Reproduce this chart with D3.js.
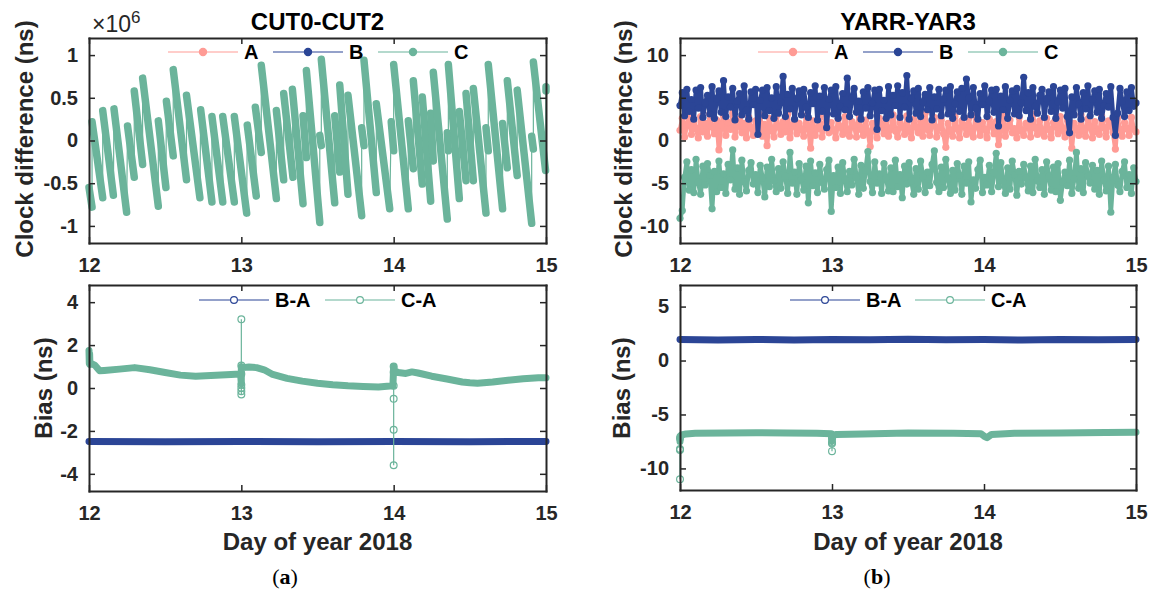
<!DOCTYPE html>
<html><head><meta charset="utf-8">
<script src="https://cdn.jsdelivr.net/npm/d3@7"></script>
<style>body{margin:0;background:#fff}</style>
</head><body><svg id="c" width="1153" height="595"></svg>
<script>
// ---------- data ----------
const xTicks = [12, 13, 14, 15];
const cutYTicks = [-1, -0.5, 0, 0.5, 1];          // x 10^6 ns
const yarYTicks = [-10, -5, 0, 5, 10];
const cutBiasTicks = [-4, -2, 0, 2, 4];
const yarBiasTicks = [-10, -5, 0, 5];
const seriesTop = ["A", "B", "C"];
const seriesBias = ["B-A", "C-A"];

// CUT0-CUT2, series C (units of 1e6 ns): [tStart, vStart, tEnd, vEnd] per ramp
const cutC = [
 [12.000,-0.55,12.020,-0.78],[12.020,0.22,12.090,-0.67],[12.090,0.35,12.160,-0.64],
 [12.164,0.37,12.247,-0.84],[12.253,0.17,12.297,-0.43],[12.297,0.58,12.352,-0.28],
 [12.352,0.73,12.455,-0.77],[12.455,0.23,12.505,-0.55],[12.508,0.46,12.553,-0.18],
 [12.553,0.83,12.640,-0.46],[12.640,0.53,12.728,-0.67],[12.733,0.36,12.807,-0.72],
 [12.807,0.28,12.878,-0.72],[12.878,0.28,12.954,-0.72],[12.954,0.28,13.035,-0.85],
 [13.039,0.18,13.098,-0.65],[13.092,0.39,13.131,-0.14],[13.131,0.88,13.230,-0.68],
 [13.230,0.35,13.278,-0.46],[13.278,0.55,13.339,-0.43],[13.335,0.60,13.405,-0.74],
 [13.405,0.29,13.427,-0.20],[13.427,0.82,13.515,-0.96],[13.515,0.06,13.525,-0.06],
 [13.525,0.95,13.613,-0.73],[13.613,0.29,13.646,-0.37],[13.646,0.65,13.700,-0.63],
 [13.700,0.53,13.790,-0.88],[13.790,0.15,13.805,-0.06],[13.805,0.94,13.886,-0.61],
 [13.886,0.43,13.974,-0.80],[13.984,0.22,14.000,-0.12],[14.000,0.89,14.096,-0.80],
 [14.096,0.23,14.129,-0.33],[14.129,0.70,14.188,-0.51],[14.188,0.51,14.243,-0.71],
 [14.243,0.32,14.260,-0.24],[14.260,0.80,14.352,-0.92],[14.352,0.09,14.359,-0.12],
 [14.359,0.89,14.431,-0.68],[14.431,0.34,14.475,-0.47],[14.475,0.55,14.523,-0.47],
 [14.523,0.61,14.606,-0.85],[14.606,0.15,14.621,-0.12],[14.621,0.89,14.715,-0.80],
 [14.715,0.20,14.746,-0.32],[14.746,0.70,14.811,-0.41],[14.811,0.59,14.906,-0.97],
 [14.906,0.05,14.917,-0.10],[14.917,0.92,14.997,-0.35],[15.000,0.63,15.000,0.58]
];

// YARR-YAR3 clock differences (ns), evenly sampled over days 12-15
const yarA = [
 1.2,2.6,0.4,1.9,3.0,0.7,2.2,1.4,0.3,2.8,1.0,2.0,0.5,3.1,1.6,0.8,2.4,-1.1,1.8,2.9,
 0.6,2.1,1.3,3.2,0.4,1.7,2.5,0.9,2.0,0.3,2.7,1.5,0.6,2.3,1.1,3.0,0.5,1.9,-0.6,2.6,
 1.2,0.4,2.8,1.6,0.7,2.2,1.0,3.1,0.3,1.8,2.4,0.8,2.0,1.3,0.5,2.9,1.7,-0.9,2.3,0.6,
 1.4,2.7,0.4,1.9,3.0,0.9,2.1,1.2,0.3,2.5,1.6,0.7,2.8,1.1,0.5,2.2,1.8,0.4,3.1,1.3,
 0.6,2.4,1.0,-0.7,2.0,1.5,0.3,2.6,1.9,0.8,2.3,0.5,1.4,3.0,1.1,0.4,2.1,1.7,0.7,2.9,
 1.2,0.3,2.5,1.6,0.9,2.2,0.5,3.2,1.3,0.6,1.9,2.7,0.4,1.5,2.4,0.8,-0.8,2.0,1.1,0.5,
 2.8,1.4,0.3,2.3,1.8,0.7,2.6,1.0,0.4,3.0,1.6,0.6,2.1,1.3,0.3,2.5,1.9,0.8,2.2,-0.5,
 1.2,2.9,0.5,1.7,2.4,0.9,1.4,0.3,2.7,1.1,0.6,2.0,1.8,0.4,3.1,1.5,0.7,2.3,1.0,0.5,
 2.6,1.3,0.3,2.1,1.9,0.8,2.8,1.2,0.4,2.4,1.6,-0.9,2.0,1.4,0.6,3.0,1.1,0.5,2.5,1.7,
 0.3,2.2,1.0,0.7,2.9,1.5,0.4,2.3,1.8,0.9,-1.0,2.6,1.2,0.5,2.1,1.4,0.6,2.7,1.3,1.0
];
const yarB = [
 4.1,5.6,2.9,6.0,3.4,4.8,2.5,5.9,3.8,6.2,2.7,4.4,5.3,3.1,6.3,2.6,4.9,5.8,3.3,7.0,
 2.8,5.1,3.9,6.1,2.4,4.6,5.5,3.0,6.4,3.6,2.5,5.7,4.2,6.0,0.7,4.7,5.9,2.9,6.2,3.5,
 5.0,2.6,6.3,3.2,4.5,7.5,2.8,5.4,3.7,6.1,2.5,4.9,5.8,3.0,6.0,3.9,2.7,5.6,4.3,6.4,
 2.4,5.2,3.4,6.2,1.5,4.8,5.9,3.1,6.3,2.6,4.0,5.5,3.6,7.3,2.8,5.0,6.1,3.3,4.6,2.5,
 5.7,3.8,6.2,2.9,4.4,5.9,1.3,6.0,3.5,4.7,2.6,6.3,3.0,5.3,4.1,6.4,2.7,5.6,3.9,7.6,
 2.5,4.9,5.8,3.2,6.1,2.8,4.5,5.4,3.6,6.2,2.4,5.1,3.7,6.0,2.9,4.8,5.9,3.1,6.3,2.6,
 4.3,5.7,3.4,6.1,2.7,7.2,5.0,3.0,6.2,3.8,2.5,5.5,4.2,6.4,2.8,4.6,5.9,3.3,6.0,1.7,
 5.2,3.6,6.3,2.6,4.7,5.8,3.1,6.1,2.9,4.4,7.4,3.5,5.6,2.5,6.2,4.0,3.2,5.3,6.0,2.7,
 4.9,5.7,3.4,6.3,2.6,4.5,5.9,3.8,6.1,2.8,0.9,5.1,3.0,6.2,4.3,2.5,5.6,3.7,6.4,2.9,
 4.8,5.8,3.3,6.0,2.6,4.1,5.5,3.9,6.3,2.7,0.6,3.2,6.1,4.6,2.8,5.7,3.5,6.2,4.0,4.4
];
const yarC = [
 -9.1,-8.2,-4.3,-2.5,-5.8,-3.4,-6.1,-2.2,-4.9,-6.3,-3.0,-5.2,-2.7,-4.1,-8.0,-3.6,-6.0,-2.4,-5.5,-3.9,
 -6.2,-2.8,-4.6,-1.1,-5.7,-3.2,-6.3,-2.3,-4.8,-5.9,-3.5,-2.6,-5.1,-4.0,-6.1,-2.9,-4.4,-6.6,-3.1,-5.4,
 -2.2,-4.7,-6.0,-3.3,-5.6,-2.5,-4.2,-6.2,-1.4,-5.0,-3.7,-6.3,-2.7,-4.5,-5.8,-3.0,-7.3,-2.4,-5.3,-3.8,
 -6.1,-2.8,-4.9,-5.7,-3.4,-2.3,-8.3,-4.1,-5.5,-3.1,-6.2,-2.6,-4.6,-6.0,-3.6,-5.2,-2.2,-4.3,-6.3,-2.9,
 -5.6,-3.5,-1.3,-4.8,-6.1,-2.5,-5.0,-3.9,-6.2,-2.7,-4.4,-5.9,-3.2,-6.0,-2.3,-5.4,-4.0,-6.7,-3.0,-5.1,
 -2.6,-4.7,-6.3,-3.3,-5.7,-2.4,-4.2,-6.1,-3.7,-5.3,-2.8,-1.2,-4.9,-6.0,-3.1,-5.5,-2.2,-4.5,-6.2,-3.5,
 -5.8,-2.7,-4.1,-6.3,-3.0,-5.0,-2.5,-7.2,-4.6,-5.6,-3.4,-2.3,-6.1,-4.3,-5.2,-2.9,-6.0,-3.8,-1.5,-5.4,
 -2.6,-4.8,-6.2,-3.2,-5.7,-2.4,-4.0,-6.4,-3.6,-5.1,-2.8,-4.4,-5.9,-3.0,-6.1,-2.2,-4.7,-5.5,-3.4,-6.3,
 -2.5,-4.2,-5.8,-3.1,-6.0,-2.7,-7.0,-4.9,-3.7,-5.3,-2.3,-6.2,-4.5,-1.4,-5.6,-3.3,-6.1,-2.6,-4.1,-5.0,
 -2.9,-5.7,-3.5,-6.3,-2.4,-4.6,-5.9,-3.0,-8.4,-4.3,-2.8,-5.2,-6.0,-3.6,-2.5,-5.5,-4.0,-6.2,-3.2,-4.8
];

// CUT0-CUT2 bias (ns)
const cutBA = [[12,-2.49],[12.5,-2.5],[13,-2.49],[13.5,-2.5],[14,-2.49],[14.5,-2.5],[15,-2.49]];
const cutCA = [
 [12.0,1.75],[12.002,1.15],[12.004,1.6],[12.006,1.1],[12.02,1.12],[12.04,1.05],[12.07,0.8],
 [12.1,0.82],[12.2,0.88],[12.3,0.95],[12.4,0.85],[12.5,0.72],[12.6,0.6],[12.7,0.55],[12.8,0.58],
 [12.9,0.62],[12.995,0.65],[13.0,0.2],[13.0,1.0],[13.01,0.95],[13.05,0.98],[13.1,0.95],[13.15,0.85],
 [13.2,0.65],[13.3,0.45],[13.4,0.32],[13.5,0.22],[13.6,0.15],[13.7,0.1],[13.8,0.07],[13.9,0.05],
 [13.995,0.1],[14.0,1.0],[14.005,0.8],[14.03,0.72],[14.08,0.68],[14.12,0.75],[14.16,0.7],
 [14.25,0.55],[14.35,0.42],[14.45,0.28],[14.5,0.24],[14.55,0.22],[14.65,0.28],[14.75,0.36],
 [14.85,0.43],[14.95,0.48],[15.0,0.48]
];
const cutCAOut13 = [[13.0,0.65],[13.0,3.2],[13.0,1.05],[13.0,0.15],[13.0,0.0],[13.0,-0.15],[13.0,-0.3]];
const cutCAOut14 = [[14.0,0.1],[14.0,1.0],[14.0,0.75],[14.0,-0.5],[14.0,-1.95],[14.0,-3.6]];

// YARR-YAR3 bias (ns)
const yarBA = [[12,1.95],[12.25,1.9],[12.5,1.95],[12.75,1.9],[13,1.95],[13.25,1.92],[13.5,1.97],
 [13.75,1.93],[14,1.95],[14.25,1.9],[14.5,1.95],[14.75,1.92],[15,1.95]];
const yarCA = [
 [12.0,-7.5],[12.0,-7.0],[12.01,-6.9],[12.04,-6.8],[12.1,-6.75],[12.3,-6.72],[12.5,-6.7],
 [12.7,-6.72],[12.9,-6.74],[12.995,-6.78],[13.0,-7.5],[13.005,-6.95],[13.03,-6.85],[13.2,-6.8],
 [13.5,-6.72],[13.8,-6.75],[13.98,-6.78],[14.0,-7.0],[14.02,-7.15],[14.05,-6.85],[14.2,-6.75],
 [14.5,-6.72],[14.8,-6.68],[15.0,-6.65]
];
const yarCAOut12 = [[12.0,-7.2],[12.0,-8.2],[12.0,-8.3],[12.0,-11.0]];
const yarCAOut13 = [[13.0,-7.2],[13.0,-7.6],[13.0,-7.7],[13.0,-8.4]];

// ---------- drawing ----------
const colA = "#FF9B95", colB = "#2B4596", colC = "#6BB49B";
const colorOf = {"A": colA, "B": colB, "C": colC, "B-A": colB, "C-A": colC};
const FONT = "'Liberation Sans', Arial, Helvetica, sans-serif";
const INK = "#262626";
const svg = d3.select("#c");

function makePanel(x0, x1, y0, y1, yd) {
  return {
    o: {x0, x1, y0, y1},
    x: d3.scaleLinear().domain([12, 15]).range([x0, x1]),
    y: d3.scaleLinear().domain(yd).range([y1, y0])
  };
}
const TL = makePanel(89, 546, 38, 243, [-1.2, 1.2]);
const TR = makePanel(680, 1136, 38, 243, [-12, 12]);
const BL = makePanel(89, 546, 285, 491, [-4.8, 4.8]);
const BR = makePanel(680, 1136, 285, 490, [-12, 7]);

function drawAxes(p, yTicks, fmt) {
  const {x, y, o} = p;
  const g = svg.append("g");
  g.append("g").attr("transform", `translate(0,${o.y1})`)
    .call(d3.axisBottom(x).tickValues(xTicks).tickSizeInner(-6).tickSizeOuter(0).tickPadding(15).tickFormat(d3.format("d")));
  g.append("g").attr("transform", `translate(0,${o.y0})`)
    .call(d3.axisTop(x).tickValues(xTicks).tickSizeInner(-6).tickSizeOuter(0).tickFormat(""));
  g.append("g").attr("transform", `translate(${o.x0},0)`)
    .call(d3.axisLeft(y).tickValues(yTicks).tickSizeInner(-6).tickSizeOuter(0).tickPadding(11).tickFormat(fmt));
  g.append("g").attr("transform", `translate(${o.x1},0)`)
    .call(d3.axisRight(y).tickValues(yTicks).tickSizeInner(-6).tickSizeOuter(0).tickFormat(""));
  g.selectAll(".domain").attr("stroke", INK).attr("stroke-width", 2).attr("stroke-linecap", "square");
  g.selectAll(".tick line").attr("stroke", INK).attr("stroke-width", 1.5);
  g.selectAll("text").attr("font-family", FONT).attr("font-size", 20)
    .attr("font-weight", "bold").attr("fill", INK);
}

function legend(items, starts, yy, filled) {
  const g = svg.append("g");
  items.forEach((name, i) => {
    const lx = starts[i], c = colorOf[name];
    g.append("line").attr("x1", lx).attr("x2", lx + 70).attr("y1", yy).attr("y2", yy)
      .attr("stroke", c).attr("stroke-width", 1.2);
    g.append("circle").attr("cx", lx + 35).attr("cy", yy).attr("r", filled ? 3.6 : 3.4)
      .attr("fill", filled ? c : "#fff").attr("stroke", c).attr("stroke-width", 1.2);
    g.append("text").attr("x", lx + 76).attr("y", yy).attr("dy", "0.36em")
      .attr("font-family", FONT).attr("font-size", 20).attr("font-weight", "bold")
      .attr("fill", "#000").text(name);
  });
}

const lineGen = p => d3.line().x(d => p.x(d[0])).y(d => p.y(d[1]));

// ---- Panel TL: CUT0-CUT2 clock difference ----
(function () {
  const p = TL, g = svg.append("g");
  const pts = [];
  cutC.forEach(r => { pts.push([r[0], r[1]]); pts.push([r[2], r[3]]); });
  g.append("path").attr("d", lineGen(p)(pts)).attr("fill", "none")
    .attr("stroke", colC).attr("stroke-width", 1.2);
  g.selectAll("line.ramp").data(cutC).join("line").attr("class", "ramp")
    .attr("x1", d => p.x(d[0])).attr("y1", d => p.y(d[1]))
    .attr("x2", d => p.x(d[2])).attr("y2", d => p.y(d[3]))
    .attr("stroke", colC).attr("stroke-width", 7.5).attr("stroke-linecap", "round");
})();

// ---- Panel TR: YARR-YAR3 clock difference ----
(function () {
  const p = TR, g = svg.append("g");
  [[yarA, colA], [yarB, colB], [yarC, colC]].forEach(([vals, c]) => {
    const n = vals.length;
    const pts = vals.map((v, i) => [12 + 3 * i / (n - 1), v]);
    g.append("path").attr("d", lineGen(p)(pts)).attr("fill", "none")
      .attr("stroke", c).attr("stroke-width", 4.6).attr("stroke-linejoin", "round");
    g.append("g").selectAll("circle").data(pts).join("circle")
      .attr("cx", d => p.x(d[0])).attr("cy", d => p.y(d[1])).attr("r", 3.6).attr("fill", c);
  });
})();

// ---- Panel BL: CUT0-CUT2 bias ----
(function () {
  const p = BL, g = svg.append("g");
  const lg = lineGen(p);
  g.append("path").attr("d", lg(cutBA)).attr("fill", "none").attr("stroke", colB)
    .attr("stroke-width", 7).attr("stroke-linecap", "round");
  [cutCAOut13, cutCAOut14].forEach(arr => {
    g.append("path").attr("d", lg(arr)).attr("fill", "none").attr("stroke", colC).attr("stroke-width", 1.2);
    g.append("g").selectAll("circle").data(arr).join("circle")
      .attr("cx", d => p.x(d[0])).attr("cy", d => p.y(d[1])).attr("r", 3.4)
      .attr("fill", "none").attr("stroke", colC).attr("stroke-width", 1.2);
  });
  g.append("path").attr("d", lg(cutCA)).attr("fill", "none").attr("stroke", colC)
    .attr("stroke-width", 7).attr("stroke-linecap", "round").attr("stroke-linejoin", "round");
})();

// ---- Panel BR: YARR-YAR3 bias ----
(function () {
  const p = BR, g = svg.append("g");
  const lg = lineGen(p);
  g.append("path").attr("d", lg(yarBA)).attr("fill", "none").attr("stroke", colB)
    .attr("stroke-width", 7).attr("stroke-linecap", "round");
  [yarCAOut12, yarCAOut13].forEach(arr => {
    g.append("path").attr("d", lg(arr)).attr("fill", "none").attr("stroke", colC).attr("stroke-width", 1.2);
    g.append("g").selectAll("circle").data(arr).join("circle")
      .attr("cx", d => p.x(d[0])).attr("cy", d => p.y(d[1])).attr("r", 3.4)
      .attr("fill", "none").attr("stroke", colC).attr("stroke-width", 1.2);
  });
  g.append("path").attr("d", lg(yarCA)).attr("fill", "none").attr("stroke", colC)
    .attr("stroke-width", 7).attr("stroke-linecap", "round").attr("stroke-linejoin", "round");
})();

// axes
const fmtNum = d => String(d);
drawAxes(TL, cutYTicks, fmtNum);
drawAxes(TR, yarYTicks, fmtNum);
drawAxes(BL, cutBiasTicks, fmtNum);
drawAxes(BR, yarBiasTicks, fmtNum);

// legends
legend(seriesTop, [168, 273, 378], 52, true);
legend(seriesTop, [758, 863, 968], 52, true);
legend(seriesBias, [199, 325], 300, false);
legend(seriesBias, [790, 915], 300, false);

// titles & labels
function txt(x, y, s, size, opts = {}) {
  const t = svg.append("text").attr("x", x).attr("y", y).attr("text-anchor", opts.anchor || "middle")
    .attr("font-family", opts.family || FONT).attr("font-size", size)
    .attr("font-weight", opts.weight || "bold").attr("fill", opts.fill || "#000").text(s);
  if (opts.rotate) t.attr("transform", `rotate(-90,${x},${y})`);
  return t;
}
txt(317.5, 30, "CUT0-CUT2", 24);
txt(908, 30, "YARR-YAR3", 24);
txt(33, 139, "Clock difference (ns)", 24, {rotate: true, fill: INK});
txt(632, 139, "Clock difference (ns)", 24, {rotate: true, fill: INK});
txt(52, 388, "Bias (ns)", 24, {rotate: true, fill: INK});
txt(630, 388, "Bias (ns)", 24, {rotate: true, fill: INK});
txt(317.5, 550, "Day of year 2018", 24, {fill: INK});
txt(908, 550, "Day of year 2018", 24, {fill: INK});

// x10^6 exponent
const ex = svg.append("text").attr("x", 92).attr("y", 32).attr("font-family", FONT)
  .attr("font-size", 23).attr("fill", INK);
ex.append("tspan").text("\u00d710");
ex.append("tspan").attr("dy", -9).attr("font-size", 17).text("6");

// panel tags
function tag(x, letter) {
  const t = svg.append("text").attr("x", x).attr("y", 584).attr("text-anchor", "middle")
    .attr("font-family", "'Liberation Serif', 'DejaVu Serif', serif").attr("font-size", 22).attr("fill", "#000");
  t.append("tspan").text("(");
  t.append("tspan").attr("font-weight", "bold").text(letter);
  t.append("tspan").text(")");
}
tag(285, "a");
tag(877, "b");
</script>
</body></html>
